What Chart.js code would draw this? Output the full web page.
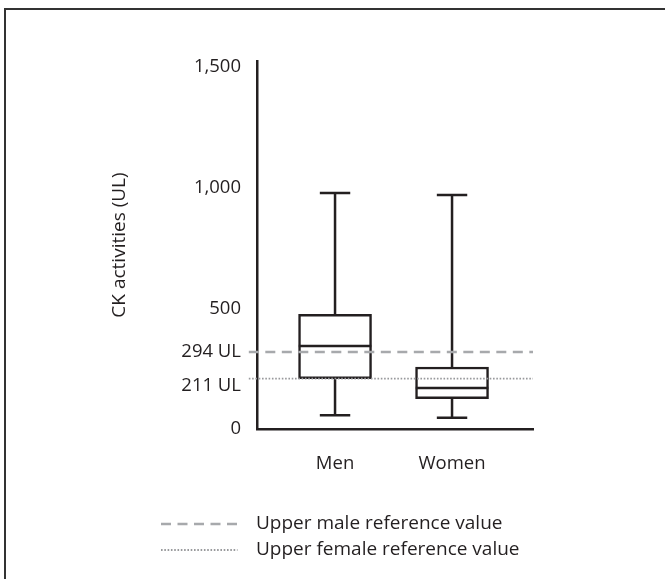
<!DOCTYPE html>
<html>
<head>
<meta charset="utf-8">
<script src="https://cdn.jsdelivr.net/npm/chart.js@4.4.1/dist/chart.umd.min.js"></script>
<style>
	body { margin: 0; background: #fff; }
	#wrap { position: relative; width: 665px; height: 579px; overflow: hidden; }
	#ck-chart { position: absolute; left: 0; top: 0; }
	#frame { position: absolute; left: 4px; top: 8px; right: -5px; bottom: -5px; border-left: 2.5px solid #333; border-top: 2px solid #333; pointer-events: none; }
</style>
</head>
<body>
<div id="wrap">
	<canvas id="ck-chart" width="665" height="579"></canvas>
	<div id="frame"></div>
</div>
<script>
// data
var categories = ['Men', 'Women'];
var whiskerLow = [57, 47];
var q1 = [209, 126];
var median = [344, 170];
var q3 = [475, 257];
var whiskerHigh = [978, 970];

// reference lines (drawn where they sit in the figure)
var refLevels = [319, 209];
var refLabels = ['Upper male reference value', 'Upper female reference value'];

var yTickValues = [0, 209, 319, 500, 1000, 1500];
var yTickLabels = ['0', '211 UL', '294 UL', '500', '1,000', '1,500'];

var ink = '#231f20';
var fontFamily = "'Open Sans', 'Noto Sans', sans-serif";

var boxHalf = 0.31;
var capHalf = 0.13;

// build the bar (box) data and whisker/median line data
var boxData = [];
var whiskerData = [];
var medianData = [];
for (var i = 0; i < categories.length; i++) {
	boxData.push({ x: i, y: [q1[i], q3[i]] });

	whiskerData.push({ x: i, y: q3[i] }, { x: i, y: whiskerHigh[i] }, { x: i, y: null });
	whiskerData.push({ x: i - capHalf, y: whiskerHigh[i] }, { x: i + capHalf, y: whiskerHigh[i] }, { x: i, y: null });
	whiskerData.push({ x: i, y: q1[i] }, { x: i, y: whiskerLow[i] }, { x: i, y: null });
	whiskerData.push({ x: i - capHalf, y: whiskerLow[i] }, { x: i + capHalf, y: whiskerLow[i] }, { x: i, y: null });

	medianData.push({ x: i - boxHalf, y: median[i] }, { x: i + boxHalf, y: median[i] }, { x: i, y: null });
}

var xMin = -0.667;
var xMax = 1.692;

var refStyles = [
	{ color: '#a7a9ac', width: 2.5, dash: [10, 6.5] },
	{ color: '#98999c', width: 1.8, dash: [1.6, 1.7] }
];

var refDatasets = [];
for (var r = 0; r < refLevels.length; r++) {
	refDatasets.push({
		type: 'line',
		label: refLabels[r],
		data: [{ x: xMin - 0.07, y: refLevels[r] }, { x: xMax, y: refLevels[r] }],
		borderColor: refStyles[r].color,
		borderWidth: refStyles[r].width,
		borderDash: refStyles[r].dash,
		pointRadius: 0,
		clip: false,
		order: 0
	});
}

// legend drawn under the plot, stacked, like the original
var refLegend = {
	id: 'refLegend',
	afterDraw: function(chart) {
		var ctx = chart.ctx;
		ctx.save();
		for (var k = 0; k < refLabels.length; k++) {
			var y = 524 + k * 26;
			ctx.beginPath();
			ctx.strokeStyle = refStyles[k].color;
			ctx.lineWidth = refStyles[k].width;
			ctx.setLineDash(refStyles[k].dash);
			ctx.moveTo(161, y);
			ctx.lineTo(237.5, y);
			ctx.stroke();
			ctx.setLineDash([]);
			ctx.fillStyle = ink;
			ctx.font = '19px ' + fontFamily;
			ctx.textBaseline = 'middle';
			ctx.textAlign = 'left';
			ctx.fillText(refLabels[k], 256, y);
		}
		ctx.restore();
	}
};

var ctx = document.getElementById('ck-chart').getContext('2d');
var chart = new Chart(ctx, {
	type: 'bar',
	data: {
		datasets: [
			{
				type: 'bar',
				data: boxData,
				backgroundColor: '#ffffff',
				borderColor: ink,
				borderWidth: 2.5,
				borderSkipped: false,
				barThickness: 73,
				order: 2
			},
			{
				type: 'line',
				data: whiskerData,
				borderColor: ink,
				borderWidth: 2.5,
				pointRadius: 0,
				spanGaps: false,
				order: 1
			},
			{
				type: 'line',
				data: medianData,
				borderColor: ink,
				borderWidth: 2.5,
				pointRadius: 0,
				spanGaps: false,
				order: 1
			}
		].concat(refDatasets)
	},
	options: {
		responsive: false,
		animation: false,
		events: [],
		layout: {
			padding: { left: 100, right: 132, top: 61, bottom: 110 }
		},
		plugins: {
			legend: { display: false },
			tooltip: { enabled: false }
		},
		scales: {
			x: {
				type: 'linear',
				min: xMin,
				max: xMax,
				offset: false,
				grid: { display: false, drawTicks: false, offset: false },
				border: { display: true, color: ink, width: 2.5 },
				afterBuildTicks: function(scale) {
					scale.ticks = categories.map(function(c, idx) { return { value: idx }; });
				},
				afterFit: function(scale) { scale.height = 40; },
				ticks: {
					padding: 24,
					color: ink,
					font: { family: fontFamily, size: 18.5 },
					callback: function(value) { return categories[value]; }
				}
			},
			y: {
				type: 'linear',
				min: 0,
				max: 1525,
				grid: { display: false, drawTicks: false },
				border: { display: true, color: ink, width: 2.5 },
				afterBuildTicks: function(scale) {
					scale.ticks = yTickValues.map(function(v) { return { value: v }; });
				},
				afterFit: function(scale) { scale.width = 157; },
				ticks: {
					padding: 16,
					color: ink,
					font: function(c) {
						// the 211 UL label sits a little below its line
						if (c.tick && c.tick.value === 209) {
							return { family: fontFamily, size: 18.5, lineHeight: 0.75 };
						}
						return { family: fontFamily, size: 18.5 };
					},
					callback: function(value) {
						var idx = yTickValues.indexOf(value);
						if (value === 209) return ['', yTickLabels[idx]];
						return yTickLabels[idx];
					}
				},
				title: {
					display: true,
					text: 'CK activities (UL)',
					color: ink,
					font: { family: fontFamily, size: 19 },
					padding: { top: 8.6, bottom: 0 }
				}
			}
		}
	},
	plugins: [refLegend]
});
</script>
</body>
</html>
